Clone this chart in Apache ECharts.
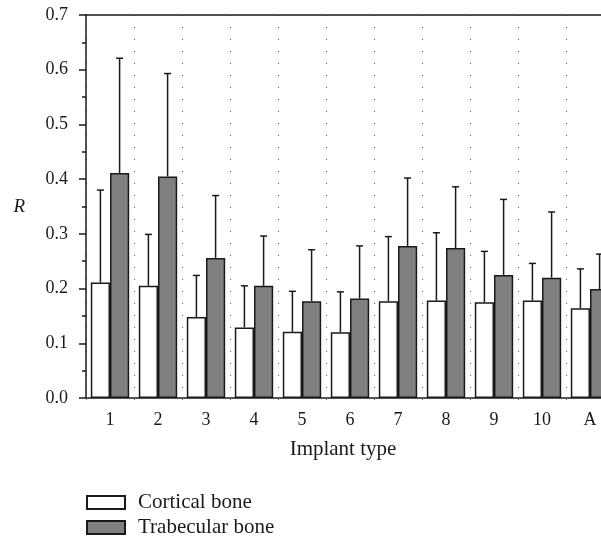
<!DOCTYPE html>
<html>
<head>
<meta charset="utf-8">
<script src="https://cdn.jsdelivr.net/npm/echarts@6/dist/echarts.min.js"></script>
<style>
  html, body { margin: 0; padding: 0; background: #fff; overflow: hidden; }
  #chart { width: 620px; height: 543px; }
</style>
</head>
<body>
<div id="chart"></div>
<script>
var categories = ['1', '2', '3', '4', '5', '6', '7', '8', '9', '10', 'A'];
var corticalMean = [0.211, 0.205, 0.148, 0.129, 0.121, 0.120, 0.177, 0.178, 0.175, 0.178, 0.164];
var corticalSd = [0.169, 0.094, 0.076, 0.076, 0.074, 0.074, 0.118, 0.124, 0.093, 0.068, 0.072];
var trabecularMean = [0.411, 0.405, 0.256, 0.205, 0.177, 0.182, 0.278, 0.274, 0.225, 0.220, 0.199];
var trabecularSd = [0.210, 0.188, 0.114, 0.091, 0.094, 0.096, 0.124, 0.112, 0.138, 0.120, 0.064];
var yTicks = [0, 0.7, 0.1];

var font = 'Liberation Serif';
var ink = '#1a1a1a';
var catGap = 0.2;

var errData = function(means, sds) {
  var out = [];
  for (var i = 0; i < means.length; i++) {
    out.push([i, means[i], means[i] + sds[i]]);
  }
  return out;
};

// side: -1 left bar, +1 right bar
var errorBar = function(side) {
  return function(params, api) {
    var band = api.size([1, 0])[0];
    var barW = band * (1 - catGap) / 2;
    var base = api.coord([api.value(0), api.value(1)]);
    var top = api.coord([api.value(0), api.value(2)]);
    var x = base[0] + side * barW / 2;
    var cap = 3.5;
    var style = { stroke: ink, lineWidth: 1.5 };
    return {
      type: 'group',
      children: [
        { type: 'line', shape: { x1: x, y1: base[1], x2: x, y2: top[1] }, style: style },
        { type: 'line', shape: { x1: x - cap, y1: top[1], x2: x + cap, y2: top[1] }, style: style }
      ]
    };
  };
};

var chart = echarts.init(document.getElementById('chart'));

// plot runs past the right edge of the window, like the source figure
var option = {
  animation: false,
  textStyle: { fontFamily: font, color: ink },
  grid: { left: 86, top: 15, right: 6, height: 383 },
  legend: {
    data: ['Cortical bone', 'Trabecular bone'],
    orient: 'vertical',
    left: 86,
    top: 492,
    padding: 0,
    itemWidth: 38,
    itemHeight: 13,
    itemGap: 4,
    icon: 'rect',
    textStyle: { fontFamily: font, fontSize: 21, lineHeight: 21, color: ink, padding: [0, 0, 0, 8] }
  },
  xAxis: [{
    type: 'category',
    data: categories,
    axisLine: { lineStyle: { color: ink, width: 1.5 } },
    axisTick: { show: true, length: 2, lineStyle: { color: '#666' } },
    axisLabel: { fontFamily: font, fontSize: 18, color: ink, margin: 13 },
    splitLine: { show: true, lineStyle: { color: '#555', type: [1, 11], width: 1 } }
  }, {
    type: 'value',
    position: 'top',
    min: 0,
    max: 1,
    axisLine: { show: true, onZero: false, lineStyle: { color: ink, width: 1.5 } },
    axisTick: { show: false },
    axisLabel: { show: false },
    splitLine: { show: false }
  }],
  yAxis: {
    type: 'value',
    min: yTicks[0],
    max: yTicks[1],
    interval: yTicks[2],
    name: 'R',
    nameLocation: 'middle',
    nameRotate: 0,
    nameGap: 61,
    nameTextStyle: { fontFamily: font, fontSize: 19, fontStyle: 'italic', color: ink },
    axisLine: { show: true, lineStyle: { color: ink, width: 1.5 } },
    axisTick: { show: true, length: 7, lineStyle: { color: ink, width: 1.5 } },
    minorTick: { show: true, splitNumber: 2, length: 4, lineStyle: { color: ink, width: 1.5 } },
    axisLabel: {
      fontFamily: font, fontSize: 18, color: ink, margin: 18,
      formatter: function(v) { return v.toFixed(1); }
    },
    splitLine: { show: false }
  },
  graphic: [{
    type: 'text',
    x: 343,
    y: 449,
    style: {
      text: 'Implant type', font: '21px "Liberation Serif"', fill: ink,
      textAlign: 'center', textVerticalAlign: 'middle'
    }
  }],
  series: [{
    name: 'Cortical bone',
    type: 'bar',
    data: corticalMean,
    barGap: '0%',
    barCategoryGap: '20%',
    itemStyle: { color: '#ffffff', borderColor: ink, borderWidth: 1.5 }
  }, {
    name: 'Trabecular bone',
    type: 'bar',
    data: trabecularMean,
    barGap: '0%',
    barCategoryGap: '20%',
    itemStyle: { color: '#808080', borderColor: ink, borderWidth: 1.5 }
  }, {
    type: 'custom',
    renderItem: errorBar(-1),
    data: errData(corticalMean, corticalSd),
    encode: { x: 0, y: [1, 2] },
    z: 3
  }, {
    type: 'custom',
    renderItem: errorBar(1),
    data: errData(trabecularMean, trabecularSd),
    encode: { x: 0, y: [1, 2] },
    z: 3
  }]
};

chart.setOption(option);
</script>
</body>
</html>
